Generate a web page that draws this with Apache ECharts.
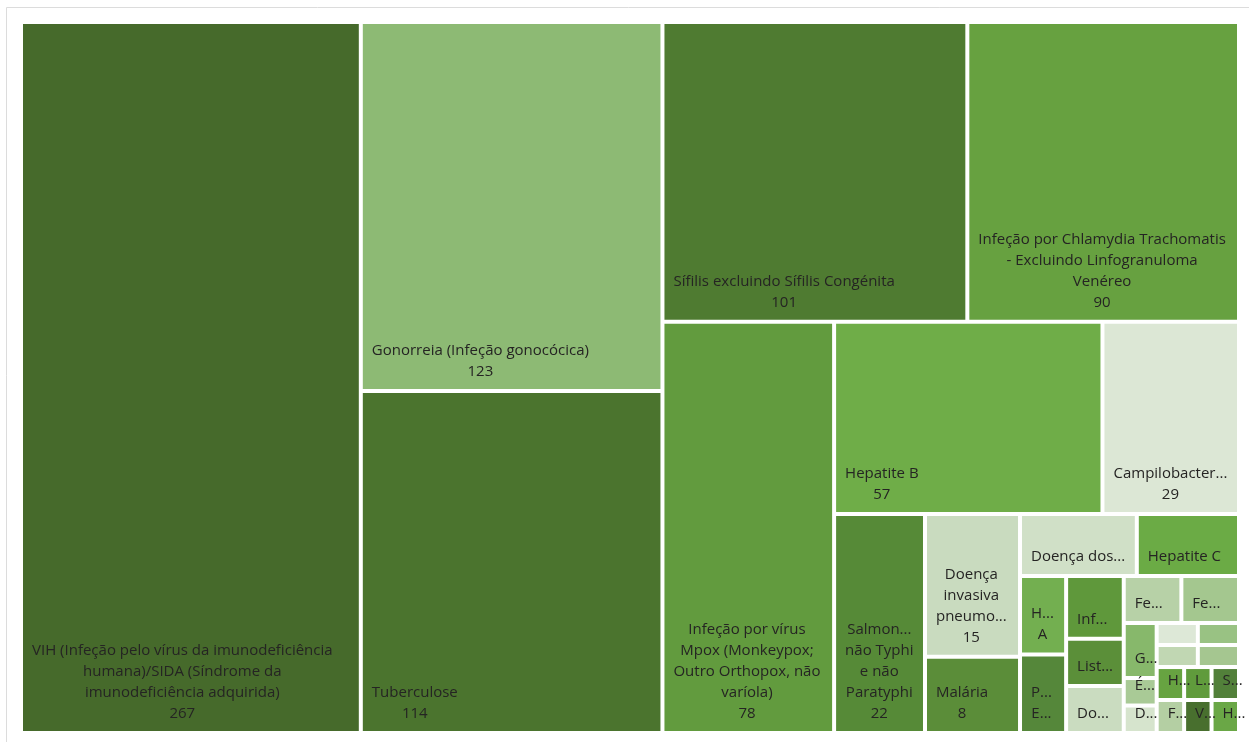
<!DOCTYPE html>
<html>
<head>
<meta charset="utf-8">
<title>Doenças de declaração obrigatória</title>
<script src="https://cdn.jsdelivr.net/npm/echarts@6/dist/echarts.min.js"></script>
<style>
  html, body { margin: 0; padding: 0; background: #ffffff; }
  #chart { width: 1249px; height: 742px; }
</style>
</head>
<body>
<div id="chart"></div>
<script>
// Disease names and notified cases.
// Equal values are ordered by descending index in the treemap, so ties are listed in reverse.
const categories = [
  'VIH (Infeção pelo vírus da imunodeficiência humana)/SIDA (Síndrome da imunodeficiência adquirida)',
  'Gonorreia (Infeção gonocócica)',
  'Tuberculose',
  'Sífilis excluindo Sífilis Congénita',
  'Infeção por Chlamydia Trachomatis - Excluindo Linfogranuloma Venéreo',
  'Infeção por vírus Mpox (Monkeypox; Outro Orthopox, não varíola)',
  'Hepatite B',
  'Campilobacteriose',
  'Salmonelose não Typhi e não Paratyphi',
  'Doença invasiva pneumocócica',
  'Doença dos Legionários',
  'Malária',
  'Hepatite C',
  'Infeção por Escherichia coli produtora de toxina Shiga',
  'Parotidite Epidémica',
  'Hepatite A',
  'Febre escaro-nodular',
  'Febre tifoide e paratifoide',
  'Doença meningocócica',
  'Listeriose',
  'Giardíase',
  'Hantavírus',
  'Vírus Zika',
  'Shigelose',
  'Leptospirose',
  'Febre do Nilo Ocidental',
  'Hepatite E',
  'Febre Q',
  'Doença de Creutzfeldt-Jakob',
  'Gripe aviária',
  'Difteria',
  'Dengue',
  'Ébola'
];
const cases = [267, 123, 114, 101, 90, 78, 57, 29, 22, 15, 8, 8, 7, 4, 4, 4, 3, 3, 3, 3, 2,
  1, 1, 1, 1, 1, 1, 1, 1, 1, 1, 1, 1];

// Fill colour of each category's cell (same order as categories)
const shades = [
  '#466a2b', '#8dba74', '#4b742e', '#4f7b31', '#67a140', '#629b3e', '#6fad48', '#dce7d5',
  '#568a37', '#c9dbbf', '#d0e0c7', '#5b8d39', '#6bab45', '#5f983b', '#55873a', '#73af50',
  '#a4c78f', '#b7d1a7', '#cadcc0', '#5b8f39', '#87b86b',
  '#6aa746', '#486f2e', '#52803a', '#609b3c', '#b4cfa3', '#67a341', '#a5c690', '#c1d7b3',
  '#99c283', '#dde8d7', '#d6e4cd', '#a9ca96'
];

const FONT_SIZE = 15;
const LINE_H = 21;
const FONT_FAMILY = '"Segoe UI", "Open Sans", sans-serif';
const PAD_X = 9;
const PAD_BOTTOM = 7;
const ELL = '...';

const measureCtx = document.createElement('canvas').getContext('2d');
measureCtx.font = FONT_SIZE + 'px ' + FONT_FAMILY;
const textW = s => measureCtx.measureText(s).width;

// Shorten a piece of text with an ellipsis until it fits maxW
function clip(text, maxW, force) {
  if (!force && textW(text) <= maxW) return text;
  let s = text;
  while (s.length > 1 && textW(s + ELL) > maxW) s = s.slice(0, -1);
  return s + ELL;
}

// Word-wrap the name inside a cell; the value goes on its own line when room is left
function wrapLabel(name, value, w, h) {
  const maxW = Math.max(w - 2 * PAD_X + 1, 1);
  const maxLines = Math.max(1, Math.floor((h - 20) / LINE_H));
  const words = name.split(/\s+/);
  const lines = [];
  let cur = '';
  let closed = false;
  for (const word of words) {
    const cand = cur ? cur + ' ' + word : word;
    if (!closed && textW(cand) <= maxW) { cur = cand; continue; }
    if (cur) lines.push(cur);
    cur = clip(word, maxW, false);
    closed = cur.endsWith(ELL);
  }
  if (cur) lines.push(cur);
  if (lines.length > maxLines) {
    const kept = lines.slice(0, maxLines);
    const last = kept[maxLines - 1];
    if (!last.endsWith(ELL)) kept[maxLines - 1] = clip(last, maxW, true);
    return kept;
  }
  if (lines.length + 1 <= maxLines) lines.push(String(value));
  return lines;
}

const blockWidths = {};

const chart = echarts.init(document.getElementById('chart'), null, { renderer: 'canvas' });

const seriesData = categories.map((name, i) => ({
  name: name,
  value: cases[i],
  itemStyle: { color: shades[i] }
}));

chart.setOption({
  animation: false,
  backgroundColor: '#ffffff',
  graphic: [{
    type: 'rect',
    silent: true,
    shape: { x: 6.5, y: 7.5, width: 1300, height: 800 },
    style: { fill: 'none', stroke: '#dcdcdc', lineWidth: 1 }
  }],
  series: [{
    type: 'treemap',
    left: 23,
    top: 24,
    width: 1214,
    height: 707,
    roam: false,
    nodeClick: false,
    squareRatio: 0.8,
    sort: 'desc',
    breadcrumb: { show: false },
    itemStyle: { gapWidth: 4, borderWidth: 0, borderColor: '#ffffff' },
    label: {
      show: true,
      position: 'insideBottomLeft',
      padding: 0,
      overflow: 'none',
      color: '#252423',
      fontFamily: FONT_FAMILY,
      fontSize: FONT_SIZE,
      lineHeight: LINE_H,
      formatter: function (p) {
        const lay = chart.getModel().getSeriesByIndex(0).getData().getItemLayout(p.dataIndex);
        if (!lay) return p.name;
        const lines = wrapLabel(p.name, p.value, lay.width, lay.height);
        const text = lines.join('\n');
        blockWidths[text] = Math.max.apply(null, lines.map(textW));
        return text;
      }
    },
    // Text block sits at the bottom left of its cell, lines centred within the block
    labelLayout: function (p) {
      const bw = blockWidths[p.text];
      if (bw == null) return {};
      return {
        x: p.rect.x + PAD_X + bw / 2,
        y: p.rect.y + p.rect.height - PAD_BOTTOM,
        align: 'center',
        verticalAlign: 'bottom'
      };
    },
    emphasis: { disabled: true },
    data: seriesData
  }]
});
</script>
</body>
</html>
